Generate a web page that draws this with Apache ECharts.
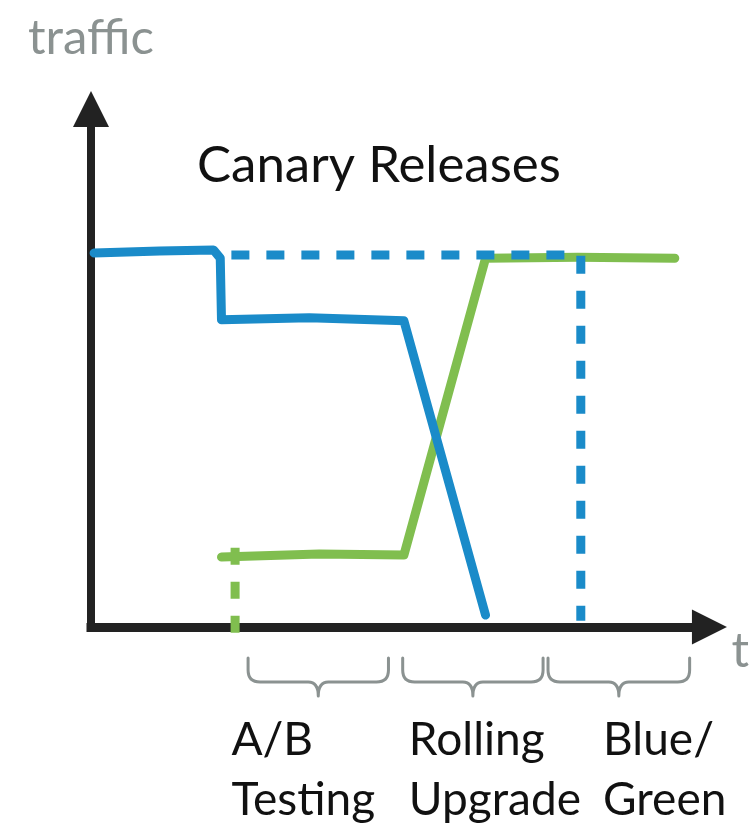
<!DOCTYPE html>
<html>
<head>
<meta charset="utf-8">
<script src="https://cdn.jsdelivr.net/npm/echarts@6/dist/echarts.min.js"></script>
<style>
html,body{margin:0;padding:0;background:#fff;}
#chart{width:752px;height:827px;}
</style>
</head>
<body>
<div id="chart"></div>
<script>
// ---- data (time units 0..100, traffic units 0..100) ----
var blueSolid = [[0.5, 72.2], [11.1, 72.6], [19.8, 72.8], [20.9, 71.2], [21.1, 59.3], [35.3, 59.7], [50.6, 59.1], [63.8, 2.3]];
var blueDashed = [[22.7, 71.8], [79.2, 71.8], [79.2, 1.2]];
var greenSolid = [[21.1, 13.5], [36.9, 14.1], [50.6, 13.9], [63.8, 71.2], [78.7, 71.4], [94.4, 71.2]];
var greenDashed = [[23.3, 15.3], [23.3, -2.5]];

var phaseLabels = ['A/B\nTesting', 'Rolling\nUpgrade', 'Blue/\nGreen'];
var phaseLabelX = [22.7, 51.4, 82.8];
var braceStart = [25.4, 50.4, 73.9];
var braceEnd = [48.1, 73.1, 96.8];

var titleText = 'Canary Releases';
var yName = 'traffic';
var xName = 't';

var BLUE = '#1a8bc9';
var GREEN = '#80be4f';
var GRAY = '#8b9291';
var FONT = 'Lato';

var braceData = braceStart.map(function (s, i) { return [s, braceEnd[i]]; });
var labelData = phaseLabelX.map(function (x, i) { return [x, 0, phaseLabels[i]]; });

var chart = echarts.init(document.getElementById('chart'), null, {renderer: 'canvas'});
chart.setOption({
  animation: false,
  backgroundColor: '#ffffff',
  title: [
    {text: titleText, left: 192, top: 135, textStyle: {fontFamily: FONT, fontSize: 51, fontWeight: 'normal', color: '#111111'}},
    {text: yName, left: 23, top: 9, textStyle: {fontFamily: FONT, fontSize: 49, fontWeight: 'normal', color: GRAY}}
  ],
  grid: {left: 91, right: 40, top: 109, bottom: 200},
  xAxis: {
    type: 'value', min: 0, max: 100,
    name: xName, nameLocation: 'end', nameGap: 22,
    nameTextStyle: {fontFamily: FONT, fontSize: 49, color: GRAY, verticalAlign: 'top', padding: [0, 0, 0, 0]},
    axisLine: {show: true, onZero: false, symbol: ['none', 'triangle'], symbolSize: [35, 35],
      lineStyle: {color: '#222222', width: 9, cap: 'square'}},
    axisTick: {show: false}, axisLabel: {show: false}, splitLine: {show: false}
  },
  yAxis: {
    type: 'value', min: 0, max: 100,
    axisLine: {show: true, onZero: false, symbol: ['none', 'triangle'], symbolSize: [36, 36],
      lineStyle: {color: '#222222', width: 8, cap: 'square'}},
    axisTick: {show: false}, axisLabel: {show: false}, splitLine: {show: false}
  },
  series: [
    {type: 'line', data: greenDashed, symbol: 'none', clip: false, z: 3,
      lineStyle: {color: GREEN, width: 9, type: [17, 17]}},
    {type: 'line', data: greenSolid, symbol: 'none', clip: false, z: 3,
      lineStyle: {color: GREEN, width: 9, join: 'round', cap: 'round'}},
    {type: 'line', data: blueSolid, symbol: 'none', clip: false, z: 4,
      lineStyle: {color: BLUE, width: 9, join: 'round', cap: 'round'}},
    {type: 'line', data: blueDashed, symbol: 'none', clip: false, z: 5,
      lineStyle: {color: BLUE, width: 9, type: [18, 17]}},
    {
      type: 'custom', data: braceData, clip: false, z: 2,
      renderItem: function (params, api) {
        var x0 = api.coord([api.value(0), 0])[0];
        var x1 = api.coord([api.value(1), 0])[0];
        var base = api.coord([0, 0])[1];
        var top = base + 31, h = base + 55, tip = base + 69;
        var m = (x0 + x1) / 2;
        var d = 'M' + x0 + ' ' + top +
          ' L' + x0 + ' ' + (h - 12) +
          ' Q' + x0 + ' ' + h + ' ' + (x0 + 12) + ' ' + h +
          ' L' + (m - 10) + ' ' + h +
          ' Q' + m + ' ' + h + ' ' + m + ' ' + tip +
          ' Q' + m + ' ' + h + ' ' + (m + 10) + ' ' + h +
          ' L' + (x1 - 12) + ' ' + h +
          ' Q' + x1 + ' ' + h + ' ' + x1 + ' ' + (h - 12) +
          ' L' + x1 + ' ' + top;
        return {
          type: 'path',
          shape: {pathData: d},
          style: {fill: 'none', stroke: GRAY, lineWidth: 3, lineCap: 'round', lineJoin: 'round'}
        };
      }
    },
    {
      type: 'custom', data: labelData, clip: false, z: 2,
      renderItem: function (params, api) {
        var p = api.coord([api.value(0), 0]);
        return {
          type: 'text',
          style: {
            text: labelData[params.dataIndex][2],
            x: p[0], y: p[1] + 83,
            fill: '#111111', font: '46px Lato', lineHeight: 60,
            align: 'left', verticalAlign: 'top'
          }
        };
      }
    }
  ]
});
</script>
</body>
</html>
